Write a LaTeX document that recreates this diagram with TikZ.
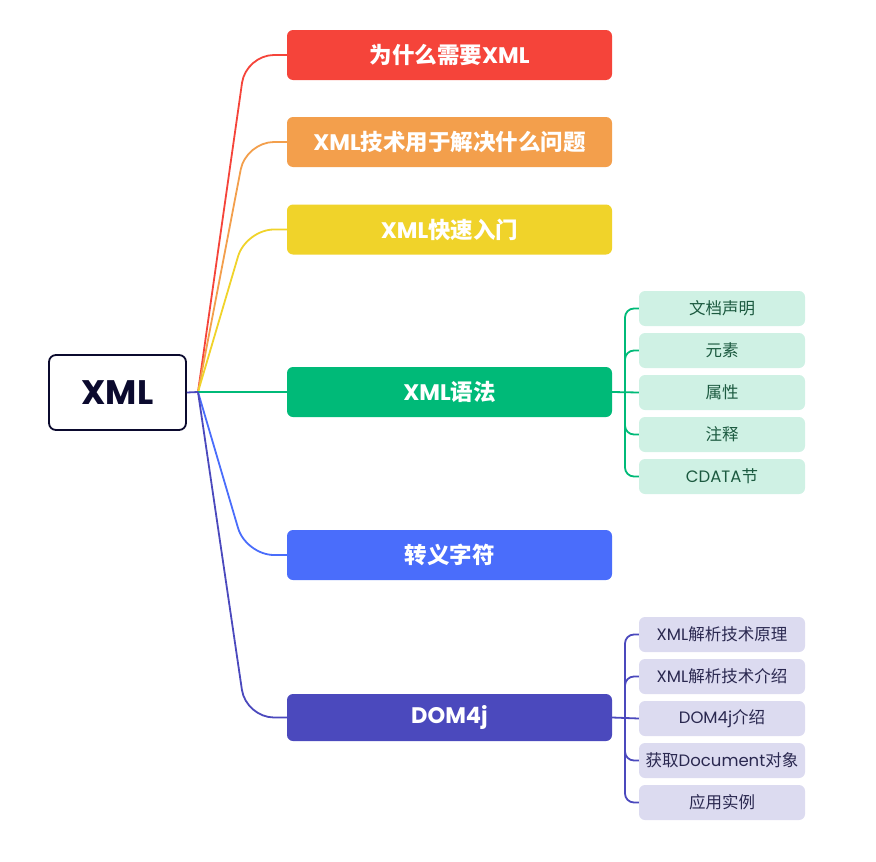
\documentclass[tikz,border=0pt]{standalone}
\usepackage{fontspec}
\setmainfont{Noto Sans CJK SC}
\newfontfamily\lat{Poppins}
\definecolor{cred}{HTML}{F5443A}
\definecolor{corange}{HTML}{F39F4C}
\definecolor{cyellow}{HTML}{F0D32A}
\definecolor{cgreen}{HTML}{00BA78}
\definecolor{cblue}{HTML}{4A6DFB}
\definecolor{cindigo}{HTML}{4B49BD}
\definecolor{cmint}{HTML}{CFF1E4}
\definecolor{clav}{HTML}{DCDBF0}
\definecolor{cnavy}{HTML}{0B0A2E}
\definecolor{cgtext}{HTML}{1C5A40}
\definecolor{cptext}{HTML}{2A2850}
\tikzset{
  mainbox/.style={rounded corners=6pt, minimum width=325pt, minimum height=50pt, inner sep=0pt, text=white, font=\fontsize{22.5}{24}\selectfont\bfseries},
  subbox/.style={rounded corners=6pt, minimum width=166pt, minimum height=35pt, inner sep=0pt, font=\fontsize{16.5}{18}\selectfont},
  conn/.style={line width=1.8pt, rounded corners=28pt},
  subconn/.style={line width=1.8pt, rounded corners=9pt}
}
\begin{document}
\begin{tikzpicture}[x=1pt,y=-1pt]
\useasboundingbox (0,0) rectangle (876,862);
\node[draw=cnavy, line width=1.8pt, rounded corners=7pt, minimum width=137pt, minimum height=75pt, inner sep=0pt, text=cnavy, font=\fontsize{34}{36}\selectfont\lat\bfseries] (root) at (117.5,392.5) {XML};

\node[mainbox, fill=cred] (n1) at (449.5,55) {为什么需要{\lat XML}};
\node[mainbox, fill=corange] (n2) at (449.5,142) {{\lat XML}技术用于解决什么问题};
\node[mainbox, fill=cyellow] (n3) at (449.5,229.5) {{\lat XML}快速入门};
\node[mainbox, fill=cgreen] (n4) at (449.5,392) {{\lat XML}语法};
\node[mainbox, fill=cblue] (n5) at (449.5,555) {转义字符};
\node[mainbox, fill=cindigo, minimum height=47pt] (n6) at (449.5,717.5) {{\lat DOM4j}};

\coordinate (fork) at (198,392);
\draw[conn, cred] (fork) -- (246,55) -- (n1.west);
\draw[conn, corange] (fork) -- (246,142) -- (n2.west);
\draw[conn, cyellow] (fork) -- (246,229.5) -- (n3.west);
\draw[conn, cgreen] (fork) -- (n4.west);
\draw[conn, cblue] (fork) -- (246,555) -- (n5.west);
\draw[conn, cindigo] (fork) -- (246,717.5) -- (n6.west);
\draw[line width=1.8pt, cindigo] (root.east) -- (fork);

\begin{scope}[every node/.style={subbox, fill=cmint, text=cgtext}]
\node (g1) at (722,308.5) {文档声明};
\node (g2) at (722,350.5) {元素};
\node (g3) at (722,392.5) {属性};
\node (g4) at (722,434.5) {注释};
\node (g5) at (722,476.5) {{\lat CDATA}节};
\end{scope}
\coordinate (gb) at (625,392);
\draw[subconn, cgreen] (n4.east) -- (g3.west);
\foreach \c in {g1,g2,g4,g5} \draw[subconn, cgreen] (gb) |- (\c.west);

\begin{scope}[every node/.style={subbox, fill=clav, text=cptext}]
\node (p1) at (722,634.5) {{\lat XML}解析技术原理};
\node (p2) at (722,676.5) {{\lat XML}解析技术介绍};
\node (p3) at (722,718.5) {{\lat DOM4j}介绍};
\node (p4) at (722,760.5) {获取{\lat Document}对象};
\node (p5) at (722,802.5) {应用实例};
\end{scope}
\coordinate (pb) at (625,718.5);
\draw[subconn, cindigo] (n6.east) -- (p3.west);
\foreach \c in {p1,p2,p4,p5} \draw[subconn, cindigo] (pb) |- (\c.west);
\end{tikzpicture}
\end{document}
